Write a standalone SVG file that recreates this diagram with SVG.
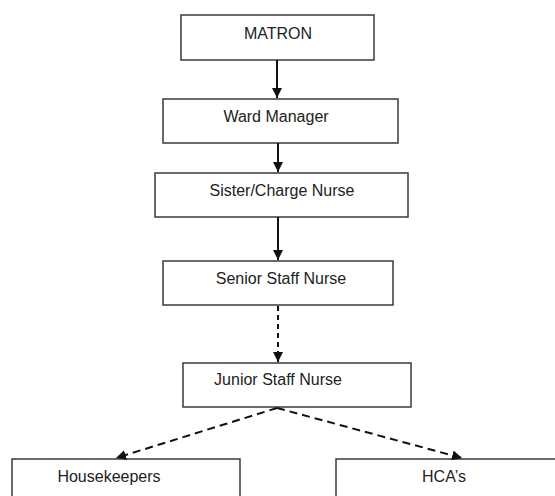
<svg xmlns="http://www.w3.org/2000/svg" width="555" height="496" viewBox="0 0 555 496">
<style>
.box{fill:#fff;stroke:#3a3a3a;stroke-width:1.5}
.lbl{font-family:"Liberation Sans",Arial,sans-serif;font-size:16px;fill:#222;text-anchor:middle}
.con{fill:none;stroke:#111;stroke-width:2}
.dash{stroke-dasharray:5 4}
.dash2{stroke-dasharray:8 5}
</style>
<defs>
<marker id="ah" markerUnits="userSpaceOnUse" markerWidth="10" markerHeight="10" refX="10" refY="5" orient="auto">
<path d="M0,0 L10,5 L0,10 Z" fill="#111"/>
</marker>
</defs>
<rect width="555" height="496" fill="#fff"/>
<g id="matron"><rect class="box" x="181" y="15" width="193" height="45"/><text class="lbl" x="278" y="39">MATRON</text></g>
<g id="ward-manager"><rect class="box" x="163" y="99" width="235" height="44"/><text class="lbl" x="276" y="122">Ward Manager</text></g>
<g id="sister"><rect class="box" x="155" y="173" width="253" height="44"/><text class="lbl" x="282" y="196">Sister/Charge Nurse</text></g>
<g id="senior"><rect class="box" x="163" y="261" width="230" height="44"/><text class="lbl" x="281" y="284">Senior Staff Nurse</text></g>
<g id="junior"><rect class="box" x="183" y="363" width="228" height="44"/><text class="lbl" x="278" y="385">Junior Staff Nurse</text></g>
<g id="housekeepers"><rect class="box" x="12" y="459" width="228" height="45"/><text class="lbl" x="109" y="482">Housekeepers</text></g>
<g id="hcas"><rect class="box" x="336" y="459" width="230" height="45"/><text class="lbl" x="444" y="482">HCA’s</text></g>
<g id="connectors">
<line class="con" x1="277" y1="60" x2="277" y2="98" marker-end="url(#ah)"/>
<line class="con" x1="278" y1="143" x2="278" y2="172" marker-end="url(#ah)"/>
<line class="con" x1="278" y1="217" x2="278" y2="260" marker-end="url(#ah)"/>
<line class="con dash" x1="278" y1="306" x2="278" y2="362" marker-end="url(#ah)"/>
<line class="con dash2" x1="277" y1="408" x2="116" y2="458" marker-end="url(#ah)"/>
<line class="con dash2" x1="277" y1="408" x2="462" y2="458" marker-end="url(#ah)"/>
</g>
</svg>
